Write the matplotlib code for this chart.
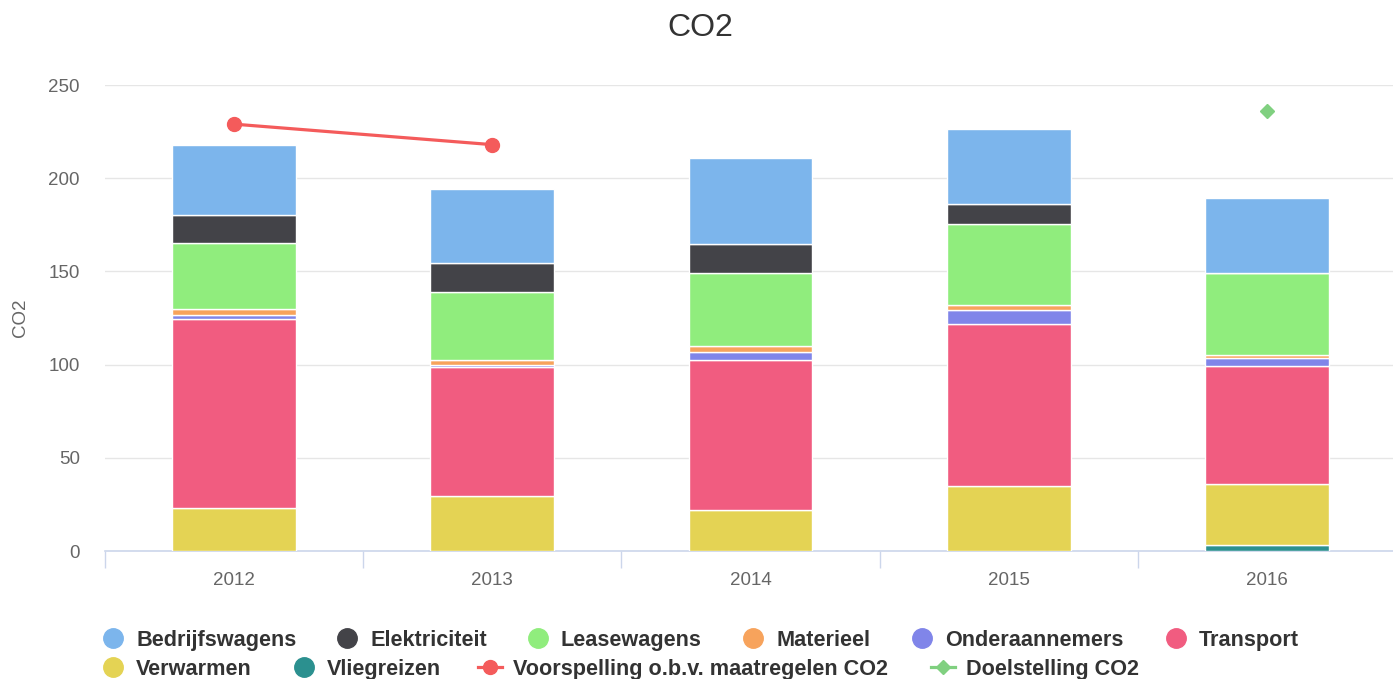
import matplotlib
matplotlib.use("Agg")
import matplotlib.pyplot as plt
import numpy as np

plt.rcParams['font.family'] = ['Liberation Sans', 'DejaVu Sans']

years = ["2012", "2013", "2014", "2015", "2016"]

# stacked series, bottom to top
vliegreizen    = [0, 0, 0, 0, 3.3]
verwarmen      = [23, 29.5, 22, 35, 32.4]
transport      = [101.5, 69, 80.2, 86.8, 63.8]
onderaannemers = [2, 1.5, 4.8, 7.7, 3.8]
materieel      = [3.5, 2.5, 3.2, 2.5, 2.1]
leasewagens    = [35, 36.5, 39, 43.4, 44]
elektriciteit  = [15.3, 15.5, 15.5, 10.6, 0]
bedrijfswagens = [37.5, 39.5, 46, 40.6, 40.2]

voorspelling = [229, 218, np.nan, np.nan, np.nan]
doelstelling = [np.nan, np.nan, np.nan, np.nan, 236]

stack = [
    ("Vliegreizen", vliegreizen, "#2b908f"),
    ("Verwarmen", verwarmen, "#e4d354"),
    ("Transport", transport, "#f15c80"),
    ("Onderaannemers", onderaannemers, "#8085e9"),
    ("Materieel", materieel, "#f7a35c"),
    ("Leasewagens", leasewagens, "#90ed7d"),
    ("Elektriciteit", elektriciteit, "#434348"),
    ("Bedrijfswagens", bedrijfswagens, "#7cb5ec"),
]
c_voor = "#f45b5b"
c_doel = "#80d080"

W, H = 1393, 679
fig = plt.figure(figsize=(W / 100, H / 100), dpi=100)
ax = fig.add_axes([105 / W, 1 - 551 / H, 1291 / W, (551 - 85) / H])

x = np.arange(len(years))
bottom = np.zeros(len(years))
for name, vals, col in stack:
    v = np.array(vals, dtype=float)
    ax.bar(x, v, width=0.48, bottom=bottom, color=col, edgecolor="white",
           linewidth=1, zorder=3)
    bottom += v

ax.plot(x, voorspelling, color=c_voor, lw=2.3, marker="o", markersize=10,
        zorder=5, solid_capstyle="round")
ax.plot(x, doelstelling, color=c_doel, lw=2.3, marker="D", markersize=7,
        zorder=5)

ax.set_xlim(-0.5, 4.5)
ax.set_ylim(0, 250)
ax.set_yticks([0, 50, 100, 150, 200, 250])
ax.yaxis.grid(True, color="#e6e6e6", linewidth=1, zorder=0)
ax.set_axisbelow(True)
ax.tick_params(axis="y", length=0, pad=18, labelsize=13.5, labelcolor="#666666")
ax.set_xticks(x)
ax.set_xticklabels(years)
ax.set_xticks(np.arange(-0.5, 5, 1), minor=True)
ax.tick_params(axis="x", which="major", length=0, pad=15, labelsize=13.5,
               labelcolor="#666666")
ax.tick_params(axis="x", which="minor", length=12, width=1, color="#ccd6eb")
for s in ["top", "right", "left"]:
    ax.spines[s].set_visible(False)
ax.spines["bottom"].set_color("#ccd6eb")
ax.spines["bottom"].set_linewidth(1.2)

fig.text(20 / W, 1 - 318 / H, "CO2", rotation=90, ha="center", va="center",
         fontsize=13.5, color="#666666")
fig.text(700 / W, 1 - 28 / H, "CO2", ha="center", va="center", fontsize=23,
         color="#333333")

# legend (manual, Highcharts-style)
lax = fig.add_axes([0, 0, 1, 1])
lax.set_xlim(0, W)
lax.set_ylim(H, 0)
lax.axis("off")
lax.patch.set_alpha(0)

legend_items = [
    ("Bedrijfswagens", "#7cb5ec", "circle", 113, 638),
    ("Elektriciteit", "#434348", "circle", 347, 638),
    ("Leasewagens", "#90ed7d", "circle", 538, 638),
    ("Materieel", "#f7a35c", "circle", 753, 638),
    ("Onderaannemers", "#8085e9", "circle", 922, 638),
    ("Transport", "#f15c80", "circle", 1176, 638),
    ("Verwarmen", "#e4d354", "circle", 113, 667),
    ("Vliegreizen", "#2b908f", "circle", 304, 667),
    ("Voorspelling o.b.v. maatregelen CO2", c_voor, "line_o", 490, 667),
    ("Doelstelling CO2", c_doel, "line_D", 943, 667),
]
for label, col, kind, sx, sy in legend_items:
    if kind == "circle":
        lax.plot([sx], [sy], marker="o", markersize=14, color=col,
                 linestyle="none")
    elif kind == "line_o":
        lax.plot([sx - 12, sx + 12], [sy, sy], color=col, lw=2.3)
        lax.plot([sx], [sy], marker="o", markersize=10, color=col)
    else:
        lax.plot([sx - 12, sx + 12], [sy, sy], color=col, lw=2.3)
        lax.plot([sx], [sy], marker="D", markersize=7, color=col)
    lax.text(sx + 23, sy + 8, label, ha="left", va="baseline", fontsize=15.6,
             fontweight="bold", color="#333333")

fig.savefig("out.png", dpi=100)
